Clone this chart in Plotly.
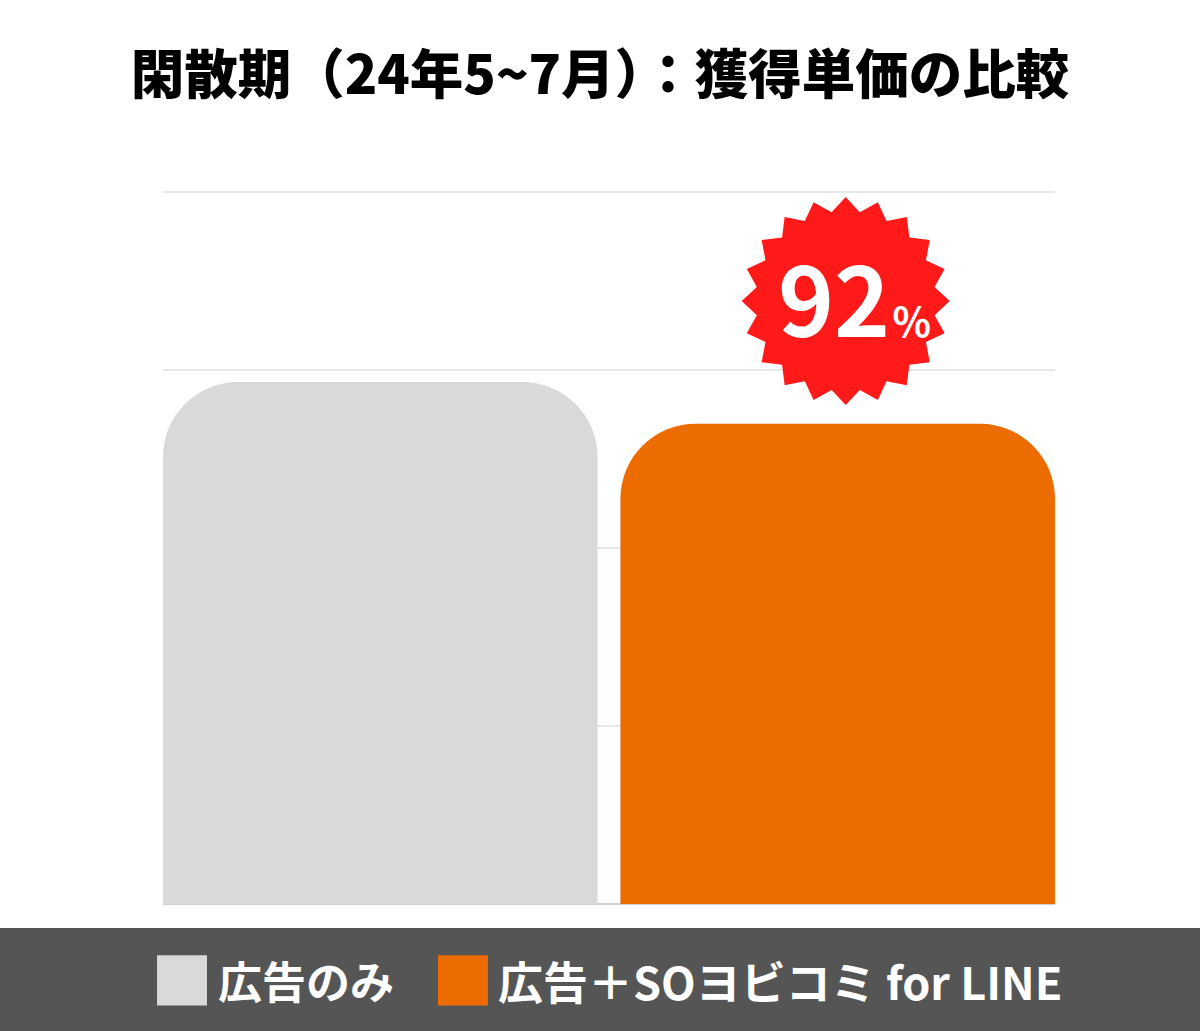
import math
import plotly.graph_objects as go

# 獲得単価（広告のみ = 100 とした相対値）
categories = ["広告のみ", "広告＋SOヨビコミ for LINE"]
values = [100, 92]
colors = ["#d9d9d9", "#ed6c00"]
title_text = "閑散期（24年5~7月）：獲得単価の比較"

FONT = "Noto Sans CJK JP"
dtick = 34.1
xs = list(range(len(categories)))

fig = go.Figure()
fig.add_trace(go.Bar(
    x=xs, y=values, width=0.95,
    marker=dict(color=colors, cornerradius=75, line=dict(width=0)),
    hoverinfo="skip", showlegend=False,
))


# starburst badge above the second bar
def star_path(n, r_out, r_in, dx=0):
    pts = []
    for i in range(2 * n):
        r = r_out if i % 2 == 0 else r_in
        a = math.pi / 2 - i * math.pi / n
        pts.append((dx + r * math.cos(a), r * math.sin(a)))
    return "M " + " L ".join(f"{px:.1f},{py:.1f}" for px, py in pts) + " Z"


badge_y = values[1] + 23.5
fig.add_shape(
    type="path", xref="x", yref="y", xsizemode="pixel", ysizemode="pixel",
    xanchor=1, yanchor=badge_y, path=star_path(20, 104, 90, dx=8),
    fillcolor="#ff1a1a", line=dict(width=0), layer="above",
)
pct = round(values[1] / values[0] * 100)
fig.add_annotation(
    x=1, y=badge_y, xref="x", yref="y", xshift=17, yshift=6,
    text=f"{pct}<span style='font-size:40px'>&#8202;%</span>",
    showarrow=False, font=dict(family=FONT, size=95, color="white", weight=700),
)

# legend band at the bottom
fig.add_shape(type="rect", xref="paper", yref="paper", x0=-0.3, x1=1.3,
              y0=-0.2, y1=-0.0337, fillcolor="#555555", line=dict(width=0))
sq_x = [-0.0067, 0.3083]
txt_x = [0.0594, 0.3735]
for i, name in enumerate(categories):
    fig.add_shape(type="rect", xref="paper", yref="paper",
                  x0=sq_x[i], x1=sq_x[i] + 0.056, y0=-0.1419, y1=-0.0716,
                  fillcolor=colors[i], line=dict(width=0))
    fig.add_annotation(x=txt_x[i], y=-0.1067, xref="paper", yref="paper",
                       xanchor="left", yanchor="middle", text=name, showarrow=False,
                       font=dict(family=FONT, size=44 + i, color="white", weight=700))

fig.update_layout(
    width=1200, height=1031,
    margin=dict(l=163, r=145, t=189, b=127),
    paper_bgcolor="white", plot_bgcolor="white",
    title=dict(text=title_text, x=0.5, xref="container", xanchor="center",
               y=1 - 75 / 1031, yref="container", yanchor="middle",
               font=dict(family=FONT, size=53.5, color="black", weight=900)),
    xaxis=dict(range=[-0.475, 1.475], showticklabels=False, showgrid=False,
               zeroline=False, fixedrange=True),
    yaxis=dict(range=[0, dtick * 4 + 0.575], dtick=dtick, showticklabels=False,
               gridcolor="#e8e8e8", gridwidth=1.5, zeroline=True,
               zerolinecolor="#d0d0d0", zerolinewidth=1.5, fixedrange=True),
)

fig.write_html("out.html", config={"displayModeBar": False},
               post_script="document.body.style.margin='0';")
